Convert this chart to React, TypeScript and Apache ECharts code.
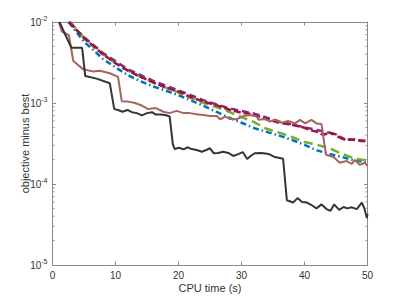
import React, { useEffect, useRef } from "react";
import * as echarts from "echarts";

const xTicks = [0, 10, 20, 30, 40, 50];
const minorTickValues = [
  2e-5, 3e-5, 4e-5, 5e-5, 6e-5, 7e-5, 8e-5, 9e-5,
  2e-4, 3e-4, 4e-4, 5e-4, 6e-4, 7e-4, 8e-4, 9e-4,
  2e-3, 3e-3, 4e-3, 5e-3, 6e-3, 7e-3, 8e-3, 9e-3,
];

const blackSeries = [
  [1.1, 1.0e-2], [3.0, 4.8e-3], [4.7, 4.8e-3], [5.2, 2.15e-3], [7.0, 2.0e-3], [9.1, 1.75e-3],
  [9.8, 8.4e-4], [10.4, 8.2e-4], [11.1, 7.8e-4], [11.9, 8.2e-4], [12.6, 7.7e-4], [13.4, 7.5e-4],
  [14.2, 7.05e-4], [15.0, 7.5e-4], [15.8, 7.7e-4], [16.4, 7.2e-4], [17.1, 7.2e-4], [17.9, 7.1e-4],
  [18.6, 6.8e-4], [19.1, 3.1e-4], [19.4, 2.7e-4], [20.1, 2.8e-4], [20.8, 2.68e-4], [21.4, 2.84e-4],
  [22.1, 2.7e-4], [22.9, 2.63e-4], [23.7, 2.5e-4], [24.4, 2.63e-4], [25.0, 2.76e-4], [25.6, 2.39e-4],
  [26.3, 2.42e-4], [27.1, 2.5e-4], [27.9, 2.42e-4], [28.7, 2.22e-4], [29.5, 2.34e-4], [30.2, 2.48e-4],
  [30.9, 2.04e-4], [31.4, 2.2e-4], [32.1, 2.4e-4], [33.2, 2.42e-4], [34.3, 2.35e-4], [35.3, 2.15e-4],
  [36.6, 2.05e-4], [37.2, 6.3e-5], [38.2, 5.9e-5], [38.9, 6.7e-5], [39.6, 6.0e-5], [40.4, 5.9e-5],
  [41.1, 5.5e-5], [41.9, 5.0e-5], [42.7, 5.6e-5], [43.5, 4.9e-5], [44.1, 4.65e-5], [44.7, 5.6e-5],
  [45.5, 4.8e-5], [46.2, 5.2e-5], [46.8, 5.0e-5], [47.5, 5.15e-5], [48.3, 4.9e-5], [49.1, 5.9e-5],
  [49.5, 5.0e-5], [49.9, 3.8e-5], [50, 4.3e-5],
];

const brownSeries = [
  [1.0, 1.0e-2], [1.5, 7.6e-3], [2.6, 6.9e-3], [3.3, 3.3e-3], [4.9, 2.6e-3], [6.5, 2.45e-3],
  [7.5, 2.5e-3], [9.1, 2.33e-3], [10.4, 2.1e-3], [11.0, 1.05e-3], [12.0, 1.04e-3], [13.1, 1.0e-3],
  [14.2, 9.3e-4], [15.2, 8.4e-4], [16.0, 8.6e-4], [16.5, 8.6e-4], [17.6, 7.8e-4], [18.6, 7.5e-4],
  [19.7, 8.0e-4], [20.8, 7.5e-4], [21.8, 7.5e-4], [22.9, 7.25e-4], [23.9, 7.1e-4], [25.0, 6.9e-4],
  [26.1, 6.9e-4], [26.6, 6.3e-4], [27.4, 6.8e-4], [28.2, 6.35e-4], [29.2, 6.3e-4], [30.3, 6.9e-4],
  [31.3, 7.1e-4], [32.4, 6.8e-4], [32.7, 6.2e-4], [33.7, 6.35e-4], [34.5, 5.9e-4], [35.3, 6.2e-4],
  [36.4, 5.7e-4], [37.4, 6.0e-4], [38.5, 5.6e-4], [39.3, 6.2e-4], [40.1, 5.6e-4], [41.1, 6.2e-4],
  [41.9, 5.6e-4], [42.7, 5.5e-4], [43.4, 2.3e-4], [44.6, 2.15e-4], [45.6, 1.83e-4], [46.7, 1.92e-4],
  [47.5, 1.77e-4], [48.0, 1.98e-4], [48.8, 1.72e-4], [49.6, 1.83e-4], [50, 1.67e-4],
];

const blueSeries = [
  [2.6, 1.0e-2], [3.5, 8.0e-3], [5, 5.7e-3], [6.5, 4.5e-3], [8, 3.5e-3], [10, 2.75e-3],
  [12, 2.2e-3], [14, 1.85e-3], [16, 1.6e-3], [18, 1.42e-3], [20, 1.25e-3], [22, 1.07e-3],
  [24, 9.2e-4], [26, 7.8e-4], [28, 6.6e-4], [30, 5.7e-4], [32, 4.9e-4], [34, 4.4e-4],
  [36, 3.95e-4], [38, 3.5e-4], [40, 3.05e-4], [42, 2.6e-4], [44, 2.35e-4], [46, 2.15e-4],
  [48, 1.95e-4], [50, 1.85e-4],
];

const greenSeries = [
  [2.8, 1.0e-2], [5, 6.4e-3], [8, 4.0e-3], [10, 3.1e-3], [12, 2.5e-3], [14, 2.1e-3],
  [16, 1.78e-3], [18, 1.55e-3], [20, 1.35e-3], [22, 1.15e-3], [24, 1.0e-3], [26, 8.9e-4],
  [28, 7.8e-4], [30, 6.7e-4], [32, 5.8e-4], [34, 4.8e-4], [36, 4.3e-4], [38, 3.8e-4],
  [40, 3.3e-4], [42, 3.05e-4], [44, 2.75e-4], [46, 2.35e-4], [48, 2.05e-4], [50, 1.95e-4],
];

const redSeries = [
  [2.7, 1.0e-2], [3.5, 8.5e-3], [5, 6.3e-3], [6.5, 5.0e-3], [8, 4.0e-3], [10, 3.1e-3],
  [12, 2.5e-3], [14, 2.1e-3], [16, 1.8e-3], [18, 1.55e-3], [20, 1.38e-3], [22, 1.18e-3],
  [24, 1.04e-3], [26, 9.4e-4], [28, 8.3e-4], [30, 7.6e-4], [32, 7.2e-4], [34, 6.3e-4],
  [36, 5.7e-4], [38, 5.4e-4], [40, 4.95e-4], [41, 4.6e-4], [42, 4.4e-4], [43, 4.05e-4],
  [44, 4.3e-4], [45, 4.1e-4], [46, 3.7e-4], [46.5, 3.5e-4], [48, 3.55e-4], [49, 3.4e-4],
  [50, 3.35e-4],
];

const purpleSeries = [
  [2.5, 1.0e-2], [5, 6.5e-3], [8, 4.15e-3], [12, 2.6e-3], [16, 1.87e-3], [20, 1.43e-3],
  [24, 1.08e-3], [28, 8.6e-4], [32, 7.4e-4], [36, 5.9e-4], [40, 5.0e-4], [44, 4.3e-4],
  [46, 3.6e-4], [48, 3.5e-4], [50, 3.4e-4],
];

const AXIS_COLOR = "#8a8a8a";
const TEXT_COLOR = "#333333";
const FONT = "'Liberation Sans', Arial, Helvetica, sans-serif";

export default function App() {
  const ref = useRef<HTMLDivElement>(null);
  useEffect(() => {
    if (!ref.current) return;
    const chart = echarts.init(ref.current, undefined, { renderer: "svg" });
    const grid = { left: 52.5, right: 39.5, top: 22, bottom: 33 };
    const lineSeries = (data: number[][], color: string, width: number, type: any) => ({
      type: "line",
      data,
      showSymbol: false,
      symbol: "none",
      xAxisIndex: 0,
      yAxisIndex: 0,
      lineStyle: { color, width, type, cap: "butt" },
      z: 3,
    });
    chart.setOption({
      animation: false,
      grid,
      xAxis: [
        {
          type: "value",
          min: 0,
          max: 50,
          interval: 10,
          name: "CPU time (s)",
          nameLocation: "middle",
          nameGap: 17,
          nameMoveOverlap: false,
          nameTextStyle: { color: TEXT_COLOR, fontSize: 11, fontFamily: FONT },
          axisLine: { show: true, lineStyle: { color: AXIS_COLOR, width: 1 } },
          axisTick: { show: true, inside: true, length: 3.5, lineStyle: { color: AXIS_COLOR } },
          axisLabel: { color: TEXT_COLOR, fontSize: 10, fontFamily: FONT, margin: 5 },
          splitLine: { show: false },
        },
        {
          type: "value",
          position: "top",
          min: 0,
          max: 50,
          interval: 10,
          axisLine: { show: true, onZero: false, lineStyle: { color: AXIS_COLOR, width: 1 } },
          axisTick: { show: true, inside: true, length: 3.5, lineStyle: { color: AXIS_COLOR } },
          axisLabel: { show: false },
          splitLine: { show: false },
        },
      ],
      yAxis: [
        {
          type: "log",
          logBase: 10,
          min: 1e-5,
          max: 1e-2,
          name: "objective minus best",
          nameLocation: "middle",
          nameGap: 22.5,
          nameMoveOverlap: false,
          nameTextStyle: { color: TEXT_COLOR, fontSize: 11, fontFamily: FONT },
          axisLine: { show: true, lineStyle: { color: AXIS_COLOR, width: 1 } },
          axisTick: { show: true, inside: true, length: 3.5, lineStyle: { color: AXIS_COLOR } },
          axisLabel: {
            margin: 5,
            formatter: (v: number) => `{b|10}{s|${Math.round(Math.log10(v))}}`,
            rich: {
              b: { color: TEXT_COLOR, fontSize: 10, fontFamily: FONT },
              s: { color: TEXT_COLOR, fontSize: 7, fontFamily: FONT, padding: [0, 0, 7, 0] },
            },
          },
          splitLine: { show: false },
        },
        {
          type: "log",
          logBase: 10,
          min: 1e-5,
          max: 1e-2,
          position: "right",
          axisLine: { show: true, onZero: false, lineStyle: { color: AXIS_COLOR, width: 1 } },
          axisTick: { show: true, inside: true, length: 3.5, lineStyle: { color: AXIS_COLOR } },
          axisLabel: { show: false },
          splitLine: { show: false },
        },
      ],
      series: [
        {
          type: "custom",
          xAxisIndex: 0,
          yAxisIndex: 0,
          data: minorTickValues.map((v) => [0, v]),
          silent: true,
          z: 1,
          renderItem: (params: any, api: any) => {
            const v = api.value(1);
            const l = api.coord([0, v]);
            const r = api.coord([50, v]);
            const style = { stroke: AXIS_COLOR, lineWidth: 0.8 };
            return {
              type: "group",
              children: [
                { type: "line", shape: { x1: l[0], y1: l[1], x2: l[0] + 2.2, y2: l[1] }, style },
                { type: "line", shape: { x1: r[0], y1: r[1], x2: r[0] - 2.2, y2: r[1] }, style },
              ],
            };
          },
        },
        lineSeries(blueSeries, "#0072BD", 2.5, [6, 3, 1.5, 3]),
        lineSeries(greenSeries, "#77AC30", 2.5, [9, 5]),
        lineSeries(purpleSeries, "#7E2F8E", 2.5, [7, 4]),
        lineSeries(redSeries, "#A2142F", 2.5, [7, 3]),
        lineSeries(brownSeries, "#A5655F", 2, "solid"),
        lineSeries(blackSeries, "#353535", 2, "solid"),
      ],
    });
    return () => chart.dispose();
  }, []);
  return <div ref={ref} style={{ width: 407, height: 298, position: "absolute", left: 0, top: 0 }} />;
}
